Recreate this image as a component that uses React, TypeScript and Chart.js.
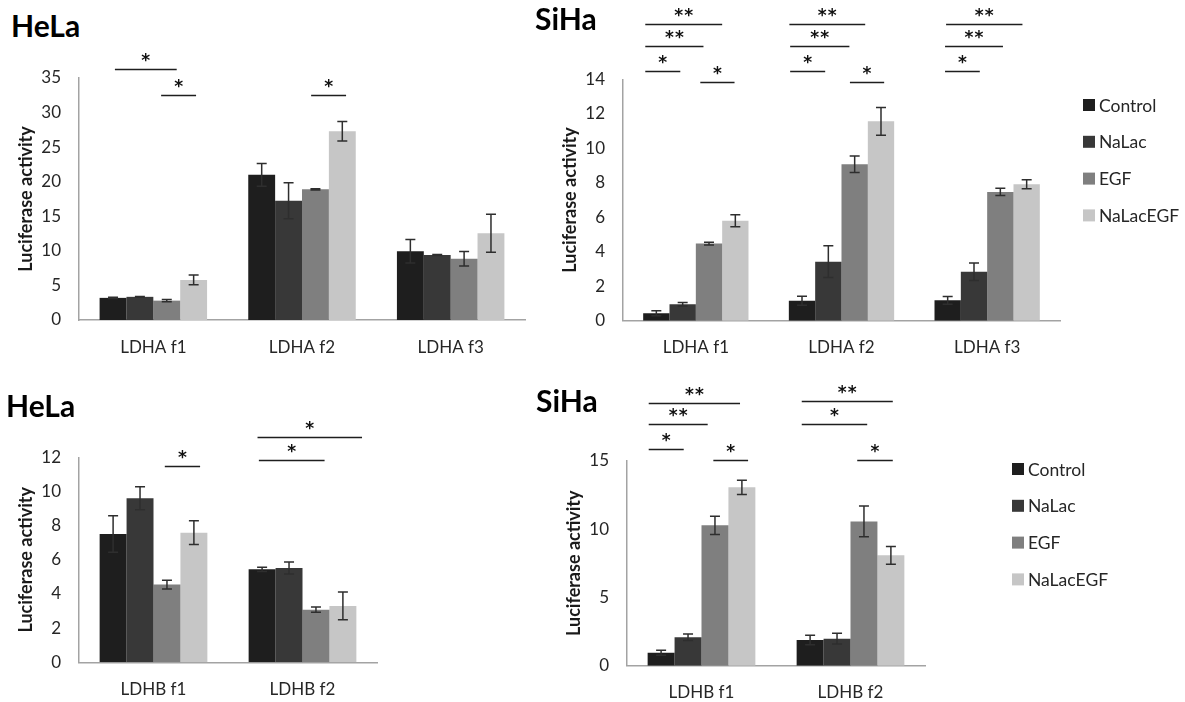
import React, { useEffect, useRef } from 'react';
import { Chart, registerables } from 'chart.js';

Chart.register(...registerables);

const W = 1185;
const H = 702;
// canvases run a little past the page bottom so the lowest axis labels have room
const CANVAS_H = 730;
const FONT = 'Lato, "Open Sans", sans-serif';
const STAR_FONT = '"DejaVu Sans", sans-serif';
Chart.defaults.font.family = FONT;

// Treatment groups shared by all four panels
const seriesNames = ['Control', 'NaLac', 'EGF', 'NaLacEGF'];
const seriesColors = ['#1e1e1e', '#383838', '#7f7f7f', '#c6c6c6'];

// HeLa – LDHA promoter fragments
const helaLdhaCategories = ['LDHA f1', 'LDHA f2', 'LDHA f3'];
const helaLdhaControl = [3.2, 21.0, 9.95];
const helaLdhaNaLac = [3.35, 17.25, 9.4];
const helaLdhaEGF = [2.8, 18.9, 8.85];
const helaLdhaNaLacEGF = [5.8, 27.3, 12.55];
const helaLdhaControlErr = [0.08, 1.65, 1.7];
const helaLdhaNaLacErr = [0.05, 2.6, 0.08];
const helaLdhaEGFErr = [0.15, 0.1, 1.04];
const helaLdhaNaLacEGFErr = [0.7, 1.4, 2.75];

// SiHa – LDHA promoter fragments
const sihaLdhaCategories = ['LDHA f1', 'LDHA f2', 'LDHA f3'];
const sihaLdhaControl = [0.43, 1.16, 1.18];
const sihaLdhaNaLac = [0.95, 3.42, 2.84];
const sihaLdhaEGF = [4.47, 9.07, 7.47];
const sihaLdhaNaLacEGF = [5.8, 11.56, 7.91];
const sihaLdhaControlErr = [0.15, 0.26, 0.22];
const sihaLdhaNaLacErr = [0.1, 0.92, 0.51];
const sihaLdhaEGFErr = [0.08, 0.48, 0.21];
const sihaLdhaNaLacEGFErr = [0.35, 0.81, 0.26];

// HeLa – LDHB promoter fragments
const helaLdhbCategories = ['LDHB f1', 'LDHB f2'];
const helaLdhbControl = [7.51, 5.44];
const helaLdhbNaLac = [9.6, 5.52];
const helaLdhbEGF = [4.55, 3.08];
const helaLdhbNaLacEGF = [7.59, 3.3];
const helaLdhbControlErr = [1.07, 0.12];
const helaLdhbNaLacErr = [0.67, 0.35];
const helaLdhbEGFErr = [0.26, 0.15];
const helaLdhbNaLacEGFErr = [0.7, 0.81];

// SiHa – LDHB promoter fragments
const sihaLdhbCategories = ['LDHB f1', 'LDHB f2'];
const sihaLdhbControl = [0.95, 1.88];
const sihaLdhbNaLac = [2.08, 1.98];
const sihaLdhbEGF = [10.27, 10.56];
const sihaLdhbNaLacEGF = [13.05, 8.08];
const sihaLdhbControlErr = [0.18, 0.35];
const sihaLdhbNaLacErr = [0.24, 0.39];
const sihaLdhbEGFErr = [0.67, 1.12];
const sihaLdhbNaLacEGFErr = [0.52, 0.65];

// Significance brackets: group index, span in bar widths from the group's left edge,
// height in axis units, number of asterisks
type Bracket = { group: number; from: number; to: number; level: number; stars: number };

const helaLdhaBrackets: Bracket[] = [
  { group: 0, from: 0.57, to: 2.87, level: 36.35, stars: 1 },
  { group: 0, from: 2.29, to: 3.59, level: 32.54, stars: 1 },
  { group: 1, from: 2.34, to: 3.64, level: 32.54, stars: 1 },
];
const sihaLdhaBrackets: Bracket[] = [
  { group: 0, from: 0.08, to: 3.0, level: 17.21, stars: 2 },
  { group: 0, from: 0.08, to: 2.29, level: 15.95, stars: 2 },
  { group: 0, from: 0.08, to: 1.41, level: 14.5, stars: 1 },
  { group: 0, from: 2.17, to: 3.47, level: 13.83, stars: 1 },
  { group: 1, from: 0.02, to: 2.9, level: 17.21, stars: 2 },
  { group: 1, from: 0.05, to: 2.3, level: 15.95, stars: 2 },
  { group: 1, from: 0.05, to: 1.38, level: 14.5, stars: 1 },
  { group: 1, from: 2.32, to: 3.62, level: 13.83, stars: 1 },
  { group: 2, from: 0.44, to: 3.34, level: 17.2, stars: 2 },
  { group: 2, from: 0.4, to: 2.6, level: 15.93, stars: 2 },
  { group: 2, from: 0.4, to: 1.72, level: 14.48, stars: 1 },
];
const helaLdhbBrackets: Bracket[] = [
  { group: 0, from: 2.42, to: 3.73, level: 11.49, stars: 1 },
  { group: 1, from: 0.33, to: 4.21, level: 13.19, stars: 1 },
  { group: 1, from: 0.38, to: 2.82, level: 11.84, stars: 1 },
];
const sihaLdhbBrackets: Bracket[] = [
  { group: 0, from: 0.04, to: 3.43, level: 19.2, stars: 2 },
  { group: 0, from: 0.04, to: 2.23, level: 17.68, stars: 2 },
  { group: 0, from: 0.04, to: 1.34, level: 15.85, stars: 1 },
  { group: 0, from: 2.44, to: 3.73, level: 15.05, stars: 1 },
  { group: 1, from: 0.19, to: 3.57, level: 19.39, stars: 2 },
  { group: 1, from: 0.19, to: 2.62, level: 17.68, stars: 1 },
  { group: 1, from: 2.25, to: 3.57, level: 15.05, stars: 1 },
];

type Panel = {
  title: string;
  titlePos: { left: number; top: number };
  area: { left: number; right: number; top: number; bottom: number };
  yMax: number;
  yStep: number;
  categories: string[];
  values: number[][];
  errors: number[][];
  brackets: Bracket[];
  legend: { x: number; y: number } | null;
};

const panels: Panel[] = [
  {
    title: 'HeLa',
    titlePos: { left: 11, top: 10 },
    area: { left: 79, right: 525, top: 78, bottom: 320 },
    yMax: 35,
    yStep: 5,
    categories: helaLdhaCategories,
    values: [helaLdhaControl, helaLdhaNaLac, helaLdhaEGF, helaLdhaNaLacEGF],
    errors: [helaLdhaControlErr, helaLdhaNaLacErr, helaLdhaEGFErr, helaLdhaNaLacEGFErr],
    brackets: helaLdhaBrackets,
    legend: null,
  },
  {
    title: 'SiHa',
    titlePos: { left: 535, top: 3 },
    area: { left: 623, right: 1060, top: 79.3, bottom: 320.7 },
    yMax: 14,
    yStep: 2,
    categories: sihaLdhaCategories,
    values: [sihaLdhaControl, sihaLdhaNaLac, sihaLdhaEGF, sihaLdhaNaLacEGF],
    errors: [sihaLdhaControlErr, sihaLdhaNaLacErr, sihaLdhaEGFErr, sihaLdhaNaLacEGFErr],
    brackets: sihaLdhaBrackets,
    legend: { x: 1083, y: 105 },
  },
  {
    title: 'HeLa',
    titlePos: { left: 6, top: 390 },
    area: { left: 79, right: 377, top: 457.3, bottom: 662.3 },
    yMax: 12,
    yStep: 2,
    categories: helaLdhbCategories,
    values: [helaLdhbControl, helaLdhbNaLac, helaLdhbEGF, helaLdhbNaLacEGF],
    errors: [helaLdhbControlErr, helaLdhbNaLacErr, helaLdhbEGFErr, helaLdhbNaLacEGFErr],
    brackets: helaLdhbBrackets,
    legend: null,
  },
  {
    title: 'SiHa',
    titlePos: { left: 536, top: 385 },
    area: { left: 627, right: 925, top: 460.7, bottom: 665.7 },
    yMax: 15,
    yStep: 5,
    categories: sihaLdhbCategories,
    values: [sihaLdhbControl, sihaLdhbNaLac, sihaLdhbEGF, sihaLdhbNaLacEGF],
    errors: [sihaLdhbControlErr, sihaLdhbNaLacErr, sihaLdhbEGFErr, sihaLdhbNaLacEGFErr],
    brackets: sihaLdhbBrackets,
    legend: { x: 1012, y: 469 },
  },
];

const Y_W = 64;
const X_H = 50;
const TEXT = '#262626';
const AXIS = '#a3a3a3';
const TICK_SIZE = 17;

// Mean ± SD whiskers on top of every bar
const errorBarPlugin = {
  id: 'errorBars',
  afterDatasetsDraw(chart: any) {
    const { ctx } = chart;
    const y = chart.scales.y;
    const cap = 5;
    ctx.save();
    ctx.strokeStyle = '#2e2e2e';
    ctx.lineWidth = 1.5;
    chart.data.datasets.forEach((ds: any, i: number) => {
      const meta = chart.getDatasetMeta(i);
      meta.data.forEach((bar: any, j: number) => {
        const v = ds.data[j];
        const e = ds.errors[j];
        const yTop = y.getPixelForValue(v + e);
        const yBot = y.getPixelForValue(v - e);
        const x = bar.x;
        ctx.beginPath();
        ctx.moveTo(x, yTop);
        ctx.lineTo(x, yBot);
        ctx.moveTo(x - cap, yTop);
        ctx.lineTo(x + cap, yTop);
        ctx.moveTo(x - cap, yBot);
        ctx.lineTo(x + cap, yBot);
        ctx.stroke();
      });
    });
    ctx.restore();
  },
};

// Horizontal significance lines with asterisks
const bracketPlugin = {
  id: 'sigBrackets',
  afterDraw(chart: any, _args: any, opts: any) {
    const items: Bracket[] = opts.items || [];
    const { ctx } = chart;
    const y = chart.scales.y;
    const first = chart.getDatasetMeta(0).data;
    ctx.save();
    ctx.strokeStyle = '#1e1e1e';
    ctx.lineWidth = 1.3;
    ctx.fillStyle = '#111';
    ctx.font = `bold 17px ${STAR_FONT}`;
    ctx.textAlign = 'center';
    ctx.textBaseline = 'middle';
    items.forEach((b) => {
      const bar = first[b.group];
      const bw = bar.width;
      const left = bar.x - bw / 2;
      const x1 = left + b.from * bw;
      const x2 = left + b.to * bw;
      const yl = Math.round(y.getPixelForValue(b.level)) + 0.5;
      ctx.beginPath();
      ctx.moveTo(x1, yl);
      ctx.lineTo(x2, yl);
      ctx.stroke();
      const cx = (x1 + x2) / 2;
      const gap = 10;
      for (let k = 0; k < b.stars; k++) {
        const sx = cx + (k - (b.stars - 1) / 2) * gap;
        ctx.fillText('*', sx, yl - 8);
      }
    });
    ctx.restore();
  },
};

// Vertical key with square swatches
const keyPlugin = {
  id: 'sideKey',
  afterDraw(chart: any, _args: any, opts: any) {
    if (!opts.pos) return;
    const { ctx } = chart;
    const { x, y } = opts.pos;
    const step = 36.8;
    ctx.save();
    ctx.font = `17.5px ${FONT}`;
    ctx.textBaseline = 'middle';
    ctx.textAlign = 'left';
    chart.data.datasets.forEach((ds: any, i: number) => {
      const cy = y + i * step;
      ctx.fillStyle = ds.backgroundColor;
      ctx.fillRect(x, cy - 6, 12, 12);
      ctx.fillStyle = TEXT;
      ctx.fillText(ds.label, x + 16, cy + 1);
    });
    ctx.restore();
  },
};

function PanelChart({ panel }: { panel: Panel }) {
  const ref = useRef<HTMLCanvasElement | null>(null);

  useEffect(() => {
    if (!ref.current) return;
    const { area } = panel;
    const chart = new Chart(ref.current, {
      type: 'bar',
      data: {
        labels: panel.categories,
        datasets: seriesNames.map((name, i) => ({
          label: name,
          data: panel.values[i],
          errors: panel.errors[i],
          backgroundColor: seriesColors[i],
          borderWidth: 0,
          categoryPercentage: 0.723,
          barPercentage: 1,
        })) as any,
      },
      options: {
        responsive: false,
        animation: false,
        devicePixelRatio: 1,
        events: [],
        layout: {
          padding: {
            left: area.left - Y_W,
            right: W - area.right,
            top: area.top,
            bottom: CANVAS_H - area.bottom - X_H,
          },
        },
        plugins: {
          legend: { display: false },
          tooltip: { enabled: false },
          sigBrackets: { items: panel.brackets },
          sideKey: { pos: panel.legend },
        } as any,
        scales: {
          x: {
            grid: { display: false, drawTicks: false },
            border: { display: true, color: AXIS, width: 1.5 },
            ticks: { padding: 17, color: TEXT, font: { size: TICK_SIZE } },
            afterFit: (s: any) => {
              s.height = X_H;
            },
          },
          y: {
            min: 0,
            max: panel.yMax,
            grid: { display: false, drawTicks: false },
            border: { display: true, color: AXIS, width: 1.5 },
            ticks: { stepSize: panel.yStep, padding: 18, color: TEXT, font: { size: TICK_SIZE } },
            title: {
              display: true,
              text: 'Luciferase activity',
              color: '#1a1a1a',
              font: { size: 18, weight: 'bold' },
              padding: 0,
            },
            afterFit: (s: any) => {
              s.width = Y_W;
            },
          },
        },
      },
      plugins: [errorBarPlugin, bracketPlugin, keyPlugin],
    });
    return () => chart.destroy();
  }, [panel]);

  return (
    <>
      <div
        style={{
          position: 'absolute',
          left: panel.titlePos.left,
          top: panel.titlePos.top,
          font: `bold 30px ${FONT}`,
          lineHeight: '30px',
          color: '#000',
          whiteSpace: 'nowrap',
        }}
      >
        {panel.title}
      </div>
      <canvas
        ref={ref}
        width={W}
        height={CANVAS_H}
        style={{ position: 'absolute', left: 0, top: 0, width: W, height: CANVAS_H }}
      />
    </>
  );
}

export default function App() {
  return (
    <div
      style={{
        position: 'absolute',
        left: 0,
        top: 0,
        width: W,
        height: H,
        background: '#fff',
        overflow: 'hidden',
      }}
    >
      {panels.map((p, i) => (
        <PanelChart key={i} panel={p} />
      ))}
    </div>
  );
}
